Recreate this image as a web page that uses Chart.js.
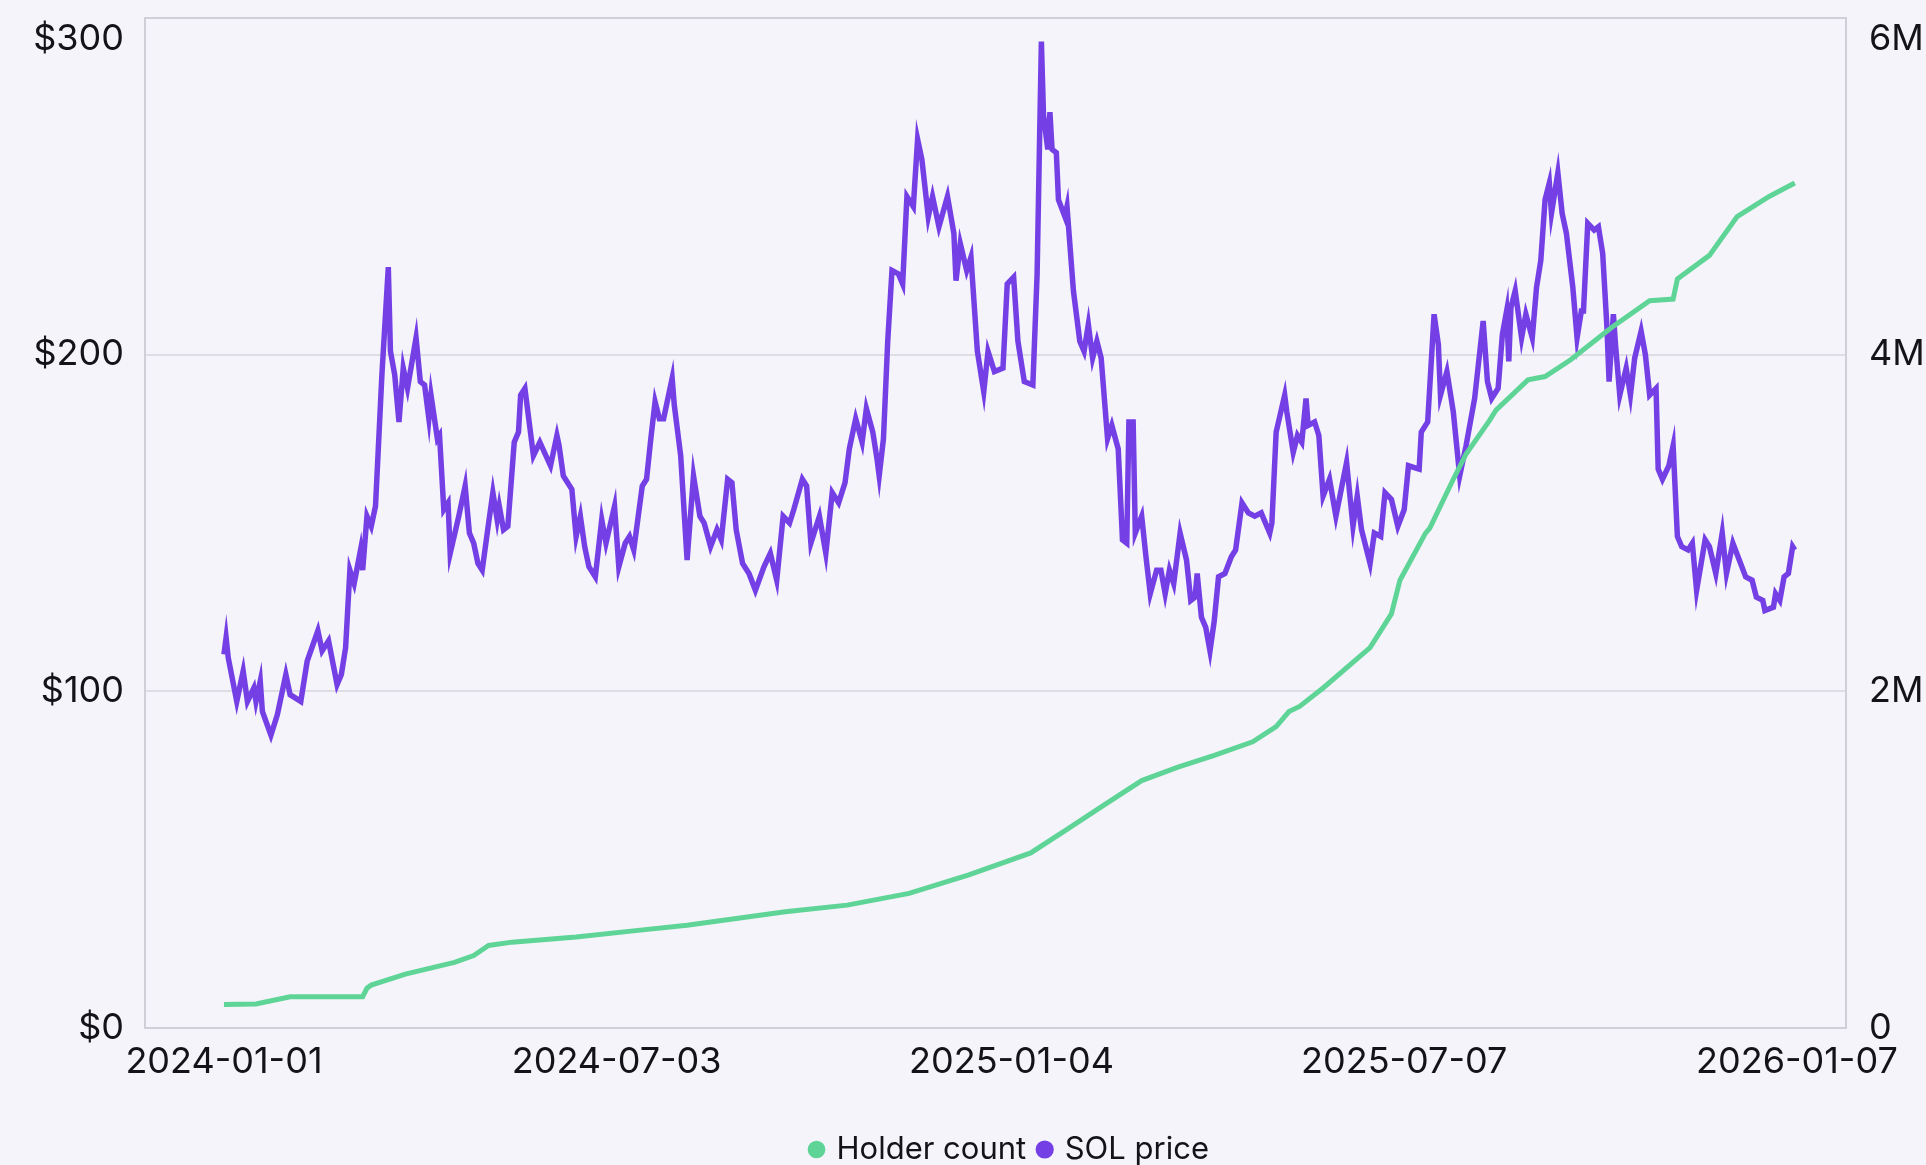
<!DOCTYPE html>
<html lang="en">
<head>
<meta charset="UTF-8">
<title>Holder count vs SOL price</title>
<script src="https://cdn.jsdelivr.net/npm/chart.js@4.4.1/dist/chart.umd.min.js"></script>
<style>
    html, body { margin: 0; padding: 0; background: #f5f4fa; }
    #solChart { display: block; }
</style>
</head>
<body>
<canvas id="solChart" width="1926" height="1165"></canvas>
<script>
// tick labels
const xTickLabels = ['2024-01-01', '2024-07-03', '2025-01-04', '2025-07-07', '2026-01-07'];
const priceTicks = [0, 100, 200, 300];
const holderTicks = [0, 2, 4, 6];

// SOL price (x = days since 2024-01-01, y = USD)
const priceDays = [
    0, 1, 2, 6, 9, 11, 14, 15, 17, 18,
    22, 25, 29, 31, 36, 39, 44, 46, 49, 53,
    55, 57, 59, 61, 64, 65, 67, 69, 71, 74,
    77, 78, 80, 82, 84, 86, 90, 92, 94, 96,
    97, 100, 101, 103, 105, 106, 110, 113, 115, 117,
    119, 121, 124, 126, 128, 129, 131, 133, 136, 138,
    139, 141, 145, 148, 153, 156, 157, 159, 160, 163,
    165, 167, 169, 171, 174, 177, 179, 183, 185, 188,
    190, 192, 196, 198, 200, 202, 204, 206, 210, 211,
    214, 217, 220, 223, 225, 228, 231, 233, 236, 238,
    240, 243, 246, 249, 253, 256, 259, 262, 265, 267,
    271, 273, 275, 279, 282, 285, 288, 291, 293, 296,
    299, 301, 304, 306, 307, 309, 311, 313, 316, 318,
    320, 323, 325, 327, 330, 332, 335, 339, 342, 343,
    345, 348, 350, 353, 356, 358, 361, 365, 367, 370,
    372, 375, 379, 381, 383, 384, 386, 387, 388, 390,
    391, 394, 395, 398, 401, 403, 405, 407, 409, 411,
    414, 416, 419, 421, 423, 424, 426, 427, 430, 432,
    434, 437, 439, 441, 443, 445, 448, 451, 453, 455,
    456, 458, 460, 462, 464, 466, 469, 472, 474, 477,
    480, 483, 486, 490, 491, 493, 497, 498, 501, 503,
    505, 507, 508, 511, 513, 515, 518, 521, 526, 529,
    531, 533, 537, 539, 542, 544, 547, 550, 553, 555,
    560, 561, 564, 567, 569, 570, 573, 576, 579, 582,
    586, 590, 592, 594, 597, 599, 601, 602, 603, 605,
    608, 610, 613, 615, 617, 619, 621, 622, 625, 627,
    629, 632, 634, 636, 637, 639, 642, 644, 646, 648,
    649, 651, 652, 654, 657, 659, 661, 664, 666, 668,
    671, 672, 674, 677, 679, 681, 683, 686, 688, 690,
    694, 696, 699, 702, 704, 707, 710, 713, 716, 718,
    721, 722, 726, 727, 729, 731, 733, 735, 736
];
const priceValues = [
    111, 116, 110, 97, 106, 97, 101, 97, 103, 94,
    87, 93, 105, 99, 97, 109, 118, 112, 115, 102,
    105, 113, 136, 132, 142, 136, 152, 149, 155, 194,
    226, 201, 194, 180, 196, 190, 205, 192, 191, 181,
    188, 175, 176, 154, 156, 141, 152, 161, 147, 144,
    138, 136, 150, 159, 151, 155, 148, 149, 174, 177,
    188, 190, 170, 174, 167, 176, 173, 164, 163, 160,
    146, 152, 143, 137, 134, 151, 144, 155, 137, 144,
    146, 142, 161, 163, 175, 186, 181, 181, 193, 185,
    170, 139, 164, 152, 150, 143, 148, 145, 163, 162,
    148, 138, 135, 130, 137, 141, 133, 152, 150, 154,
    163, 161, 144, 152, 141, 159, 156, 162, 172, 181,
    174, 184, 177, 169, 164, 175, 204, 225, 224, 221,
    247, 244, 264, 258, 241, 247, 238, 247, 236, 222,
    233, 225, 229, 201, 189, 201, 195, 196, 221, 223,
    204, 192, 191, 224, 293, 271, 261, 272, 261, 260,
    246, 241, 244, 219, 204, 201, 209, 199, 204, 199,
    175, 179, 172, 145, 144, 180, 180, 147, 152, 140,
    129, 136, 136, 129, 136, 132, 147, 139, 127, 128,
    135, 122, 119, 112, 121, 134, 135, 140, 142, 156,
    153, 152, 153, 147, 150, 177, 188, 183, 171, 176,
    174, 187, 179, 180, 176, 158, 163, 152, 168, 149,
    158, 148, 138, 147, 146, 159, 157, 149, 154, 167,
    166, 177, 180, 212, 203, 188, 195, 183, 164, 173,
    187, 210, 192, 187, 190, 206, 213, 198, 214, 219,
    205, 212, 205, 220, 228, 246, 251, 242, 254, 242,
    236, 220, 205, 213, 213, 239, 237, 238, 230, 208,
    192, 212, 203, 188, 196, 188, 199, 207, 200, 188,
    190, 166, 163, 167, 173, 146, 143, 142, 144, 130,
    145, 143, 135, 147, 135, 144, 139, 134, 133, 128,
    127, 124, 125, 129, 127, 134, 135, 143, 142
];

// holder count (x = days since 2024-01-01, y = millions of holders)
const holderDays = [
    0, 15, 31, 65, 67, 69, 85, 108, 117, 124,
    135, 165, 194, 217, 240, 263, 292, 321, 349, 378,
    395, 413, 430, 447, 464, 482, 493, 499, 504, 515,
    537, 547, 551, 563, 565, 576, 582, 593, 596, 611,
    619, 631, 635, 650, 668, 679, 681, 696, 709, 724,
    736
];
const holderMillions = [
    0.14, 0.143, 0.186, 0.186, 0.236, 0.255, 0.32, 0.39, 0.43, 0.49,
    0.51, 0.54, 0.58, 0.61, 0.65, 0.69, 0.73, 0.80, 0.91, 1.04,
    1.18, 1.33, 1.47, 1.55, 1.62, 1.70, 1.79, 1.88, 1.91, 2.02,
    2.26, 2.46, 2.66, 2.94, 2.97, 3.26, 3.41, 3.61, 3.67, 3.85,
    3.87, 3.97, 4.01, 4.16, 4.32, 4.33, 4.45, 4.59, 4.82, 4.94,
    5.02
];

// colours
const holderColor = '#5fd497';
const priceColor = '#7440e6';
const textColor = '#141418';
const gridColor = '#dedde6';
const borderColor = '#cfcfd7';

const startDate = Date.parse('2024-01-01');

// date label -> day number
function dayOf(label) {
    return Math.round((Date.parse(label) - startDate) / 86400000);
}

// top label sits just under the top edge, like in the original
function topLabel(text, isTop) {
    return isTop ? ['', text] : text;
}

// fonts first, then draw
document.addEventListener('DOMContentLoaded', function() {
    document.fonts.load('36px Inter').then(setupChart, setupChart);
});

function setupChart() {
    Chart.defaults.font.family = 'Inter, "Noto Sans", sans-serif';
    Chart.defaults.color = textColor;

    const xTickDays = xTickLabels.map(dayOf);
    const priceMax = priceTicks[priceTicks.length - 1];
    const holderMax = holderTicks[holderTicks.length - 1];

    // nudge the bottom legend a bit to the right, as in the original
    const legendShift = {
        id: 'legendShift',
        afterLayout(chart) {
            chart.legend.left += 15;
            chart.legend.right += 15;
        }
    };

    // y axes: no extra room for half labels, the plot goes right to the top
    const noPad = scale => {
        scale.paddingTop = 0;
        scale.paddingBottom = 0;
    };

    const ctx = document.getElementById('solChart');
    new Chart(ctx, {
        type: 'line',
        data: {
            datasets: [{
                label: 'Holder count',
                data: holderDays.map((d, i) => ({ x: d, y: holderMillions[i] })),
                yAxisID: 'yHolder',
                borderColor: holderColor,
                backgroundColor: holderColor,
                borderWidth: 5,
                pointRadius: 0,
                tension: 0
            }, {
                label: 'SOL price',
                data: priceDays.map((d, i) => ({ x: d, y: priceValues[i] })),
                yAxisID: 'yPrice',
                borderColor: priceColor,
                backgroundColor: priceColor,
                borderWidth: 5.5,
                pointRadius: 0,
                tension: 0
            }]
        },
        options: {
            responsive: false,
            animation: false,
            layout: {
                padding: { top: 18, left: 0, right: 0, bottom: 0 }
            },
            scales: {
                x: {
                    type: 'linear',
                    min: -37,
                    max: 760,
                    afterBuildTicks: scale => {
                        scale.ticks = xTickDays.map(v => ({ value: v }));
                    },
                    afterFit: scale => {
                        scale.height = 92;
                    },
                    ticks: {
                        autoSkip: false,
                        maxRotation: 0,
                        padding: 13,
                        font: { size: 36 },
                        callback: value => xTickLabels[xTickDays.indexOf(value)]
                    },
                    grid: { display: false, drawTicks: false },
                    border: { display: true, color: borderColor, width: 2 }
                },
                yPrice: {
                    position: 'left',
                    min: 0,
                    max: priceMax,
                    afterBuildTicks: scale => {
                        scale.ticks = priceTicks.map(v => ({ value: v }));
                    },
                    afterFit: scale => {
                        scale.width = 145;
                        noPad(scale);
                    },
                    ticks: {
                        padding: 21,
                        font: { size: 36 },
                        callback: value => topLabel('$' + value, value === priceMax)
                    },
                    grid: {
                        drawTicks: false,
                        lineWidth: 2,
                        color: c => (c.tick && c.tick.value === priceMax ? borderColor : gridColor)
                    },
                    border: { display: true, color: borderColor, width: 2 }
                },
                yHolder: {
                    position: 'right',
                    min: 0,
                    max: holderMax,
                    afterBuildTicks: scale => {
                        scale.ticks = holderTicks.map(v => ({ value: v }));
                    },
                    afterFit: scale => {
                        scale.width = 80;
                        noPad(scale);
                    },
                    ticks: {
                        padding: 23,
                        font: { size: 36 },
                        callback: value => topLabel(value === 0 ? '0' : value + 'M', value === holderMax)
                    },
                    grid: { drawOnChartArea: false, drawTicks: false },
                    border: { display: true, color: borderColor, width: 2 }
                }
            },
            plugins: {
                legend: {
                    position: 'bottom',
                    fullSize: false,
                    maxHeight: 45,
                    labels: {
                        usePointStyle: true,
                        pointStyle: 'circle',
                        boxWidth: 9,
                        boxHeight: 9,
                        padding: 14,
                        color: textColor,
                        font: { size: 31 }
                    }
                },
                tooltip: { enabled: false }
            }
        },
        plugins: [legendShift]
    });
}
</script>
</body>
</html>
